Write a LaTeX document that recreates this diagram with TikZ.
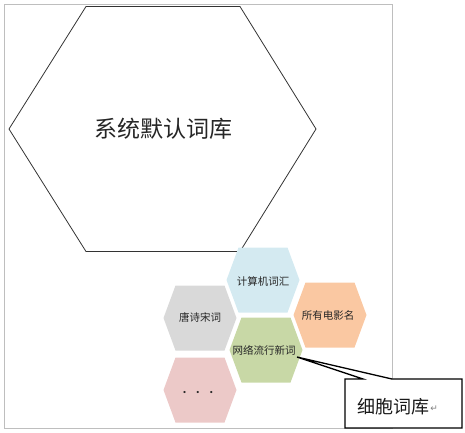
\documentclass[tikz,border=0pt]{standalone}
\usepackage{fontspec}
\newfontfamily\cjk{Noto Sans CJK SC}
\newfontfamily\djv{DejaVu Sans}
\definecolor{hexblue}{RGB}{212,234,241}
\definecolor{hexgray}{RGB}{217,217,217}
\definecolor{hexorange}{RGB}{250,200,162}
\definecolor{hexgreen}{RGB}{200,216,166}
\definecolor{hexpink}{RGB}{236,201,200}
\definecolor{framegray}{RGB}{190,190,190}
\tikzset{
  smalltxt/.style={font=\cjk\fontsize{10.5}{11}\selectfont, text=black!85, inner sep=0pt},
  bigtxt/.style={font=\cjk\fontsize{23}{24}\selectfont, text=black!85, inner sep=0pt},
  calltxt/.style={font=\cjk\fontsize{18}{19}\selectfont, text=black!90, inner sep=0pt},
  callbox/.style={draw=black, line width=1.3pt, fill=white, line join=miter},
  bighex/.style={draw=black!80, line width=0.8pt},
  framebox/.style={draw=framegray, line width=0.8pt}
}
\begin{document}
\begin{tikzpicture}[x=1pt,y=-1pt]
\useasboundingbox (0,0) rectangle (465,432);
% frame
\draw[framebox] (4,4) rectangle (392,428);
% big hexagon
\node[bigtxt] (sys) at (163,129) {系统默认词库};
\draw[bighex] ([shift={(-77,-122.5)}]sys.center) -- ([shift={(77,-122.5)}]sys.center)
  -- ([shift={(153,0)}]sys.center) -- ([shift={(77,122.5)}]sys.center)
  -- ([shift={(-77,122.5)}]sys.center) -- ([shift={(-154,0)}]sys.center) -- cycle;
% small hexagons
\foreach \cx/\cy/\col/\nm in {263/280/hexblue/jsj, 200/318/hexgray/tang, 330/315/hexorange/dy, 266/350/hexgreen/wl, 200/390/hexpink/more}{
  \coordinate (\nm) at (\cx,\cy);
  \fill[\col] ([shift={(-36.5,0)}]\nm) -- ([shift={(-24.5,-32.5)}]\nm) -- ([shift={(24.5,-32.5)}]\nm)
    -- ([shift={(36.5,0)}]\nm) -- ([shift={(24.5,32.5)}]\nm) -- ([shift={(-24.5,32.5)}]\nm) -- cycle;
}
\node[smalltxt] (t1) at (263,281) {计算机词汇};
\node[smalltxt] (t2) at (200,317) {唐诗宋词};
\node[smalltxt] (t3) at (328,315) {所有电影名};
\node[smalltxt] (t4) at (264,350) {网络流行新词};
\node[smalltxt] (t5) at (198,394) {·\hspace{3pt}·\hspace{3pt}·};
% callout
\coordinate (tip) at (297,357);
\draw[callbox] (345,379) -- (363,379) -- (tip) -- (392,379) -- (462,379) -- (462,428) -- (345,428) -- cycle;
\node[calltxt] (cell) at (393,407) {细胞词库};
\node[font=\djv\fontsize{9}{9}\selectfont, text=black!50, inner sep=0pt, anchor=west] (pm) at ([shift={(1,2)}]cell.east) {↵};
\end{tikzpicture}
\end{document}
